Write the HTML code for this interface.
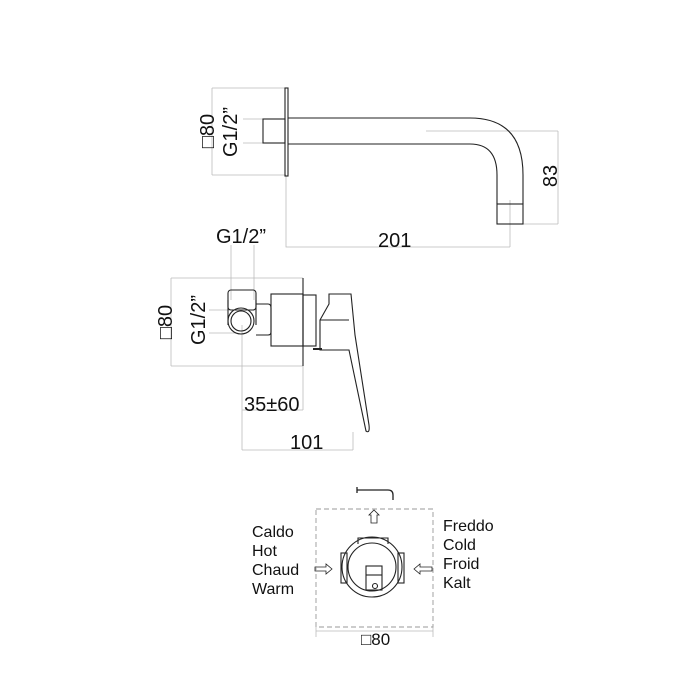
<!DOCTYPE html>
<html><head><meta charset="utf-8"><style>
html,body{margin:0;padding:0;background:#fff}
svg{display:block}
text{font-family:"Liberation Sans",sans-serif;fill:#111}
</style></head><body>
<svg width="700" height="700" viewBox="0 0 700 700" xmlns="http://www.w3.org/2000/svg">
<g fill="none" stroke="#bbb" stroke-width="0.8">
 <path d="M212 88H286M212 175H286M212 88V175"/>
 <path d="M243 119H263M243 143H263"/>
 <path d="M426 131H558M523 224H558M558 131V224"/>
 <path d="M286 176V247H510M510 200V247"/>
 <path d="M231 245V300M254 245V300"/>
 <path d="M171 278H303M171 366H303M171 278V366"/>
 <path d="M209 310H235M209 333H235"/>
 <path d="M242 325V450M303 366V410M242 410H303M242 450H353M353 432V450"/>
 <path d="M316 627V637M433 627V637M316 631H433"/>
</g>
<g fill="none" stroke="#222" stroke-width="1.1">
 <rect x="285" y="88" width="3" height="88"/>
 <rect x="263" y="119" width="22" height="24"/>
 <path d="M288 118H470Q523 118 523 175V204"/>
 <path d="M288 144H470Q497 144 497 175V204"/>
 <rect x="497" y="204" width="26" height="20"/>
 <path d="M303 278V366"/>
 <rect x="228" y="290" width="28" height="20" rx="3"/>
 <path d="M228 300V325M256 300V325"/>
 <circle cx="241" cy="321" r="13"/>
 <circle cx="241" cy="321" r="10"/>
 <path d="M256 304H268Q271 304 271 308V332Q271 335 268 335H256"/>
 <rect x="271" y="294" width="32" height="52"/>
 <rect x="303" y="295" width="13" height="51"/>
 <path d="M329 294H351L355 335L369 425Q370 434 366 431L349 350H320V320L329 304Z"/>
 <path d="M320 320H349"/>
 <path d="M313 349H322" stroke-width="2"/>
 <path d="M357 490H388Q393 490 393 495V500M357 487V493" stroke-width="1.3"/>
 <path d="M371 523V515H369L374 510L379 515H377V523Z" stroke-width="0.8"/>
 <path d="M358 544V538H388V544"/>
 <rect x="341" y="553" width="6" height="30"/>
 <rect x="398" y="553" width="6" height="30"/>
 <circle cx="372" cy="567" r="30"/>
 <circle cx="372" cy="567" r="24"/>
 <rect x="366" y="566" width="16" height="24"/>
 <path d="M366 575H382"/>
 <circle cx="375" cy="586" r="2.5"/>
 <path d="M315 567H326V564L332 569L326 574V571H315Z" stroke-width="0.8"/>
 <path d="M432 567H420V564L414 569L420 574V571H432Z" stroke-width="0.8"/>
</g>
<rect x="316" y="509" width="117" height="118" fill="none" stroke="#999" stroke-width="0.9" stroke-dasharray="5,3"/>
<g font-size="20">
 <text x="216" y="243">G1/2”</text>
 <text x="378" y="247">201</text>
 <text transform="translate(557 176) rotate(-90)" text-anchor="middle">83</text>
 <text transform="translate(214 131) rotate(-90)" text-anchor="middle">□80</text>
 <text transform="translate(237 132) rotate(-90)" text-anchor="middle">G1/2”</text>
 <text transform="translate(172 322) rotate(-90)" text-anchor="middle">□80</text>
 <text transform="translate(205 320) rotate(-90)" text-anchor="middle">G1/2”</text>
 <text x="244" y="411">35±60</text>
 <text x="290" y="449">101</text>
</g>
<g font-size="17">
 <text x="361" y="645">□80</text>
</g>
<g font-size="16">
 <text x="252" y="537">Caldo</text>
 <text x="252" y="556">Hot</text>
 <text x="252" y="575">Chaud</text>
 <text x="252" y="594">Warm</text>
 <text x="443" y="531">Freddo</text>
 <text x="443" y="550">Cold</text>
 <text x="443" y="569">Froid</text>
 <text x="443" y="588">Kalt</text>
</g>
</svg>
</body></html>
